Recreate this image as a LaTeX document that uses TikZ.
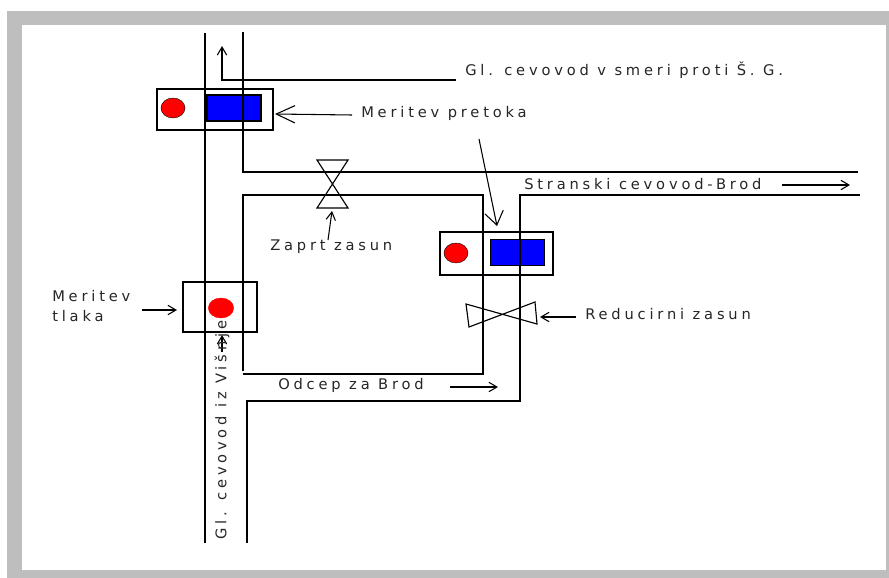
\documentclass[tikz,border=0pt]{standalone}
\usepackage{fontspec}
\setmainfont[LetterSpace=26]{DejaVu Sans}
\usetikzlibrary{arrows.meta,shapes.geometric}
\definecolor{framegray}{RGB}{190,190,190}
\tikzset{
  x=0.75pt,y=-0.75pt,
  pipe/.style={draw=black,line width=0.85pt},
  thin box/.style={draw=black,line width=0.85pt},
  meter/.style={draw=black,line width=0.8pt,fill=blue},
  dot/.style={draw=black,line width=0.3pt,fill=red},
  lbl/.style={inner sep=0pt,anchor=west,font=\fontsize{11}{13}\selectfont,text=black!85},
  pointer/.style={draw=black,line width=0.8pt,-{Straight Barb[length=6pt,width=7pt]}}
}
\begin{document}
\begin{tikzpicture}
\useasboundingbox (0,0) rectangle (889,578);
\fill[framegray] (7,11) rectangle (889,578);
\fill[white] (22,25) rectangle (886,570);
% boxes
\draw[thin box] (157,89) rectangle (273,130);
\draw[thin box] (440,232) rectangle (553,275);
\draw[thin box] (183,282) rectangle (257,332);
\node[meter,minimum width=40.5pt,minimum height=19.5pt,inner sep=0pt] (m1) at (234,108) {};
\node[meter,minimum width=41pt,minimum height=20pt,inner sep=0pt] (m2) at (517.5,252.5) {};
\node[dot,ellipse,minimum width=18pt,minimum height=15pt,inner sep=0pt] (d1) at (173,108) {};
\node[dot,ellipse,minimum width=18pt,minimum height=15pt,inner sep=0pt] (d2) at (456,253) {};
\node[dot,ellipse,draw=red,minimum width=19pt,minimum height=15pt,inner sep=0pt] (d3) at (221,308) {};
% pipes
\draw[pipe] (205,33) -- (205,543);
\draw[pipe] (243,32) -- (243,172) -- (858,172);
\draw[pipe] (243,371) -- (243,195) -- (483,195) -- (483,374) -- (243,374);
\draw[pipe] (247,543) -- (247,401) -- (520,401) -- (520,195) -- (860,195);
% valves
\draw[thin box] (317,160) -- (348,160) -- (317,208) -- (348,208) -- cycle;
\draw[thin box] (466,304) -- (537,324) -- (535,302) -- (469,327) -- cycle;
% connectors
\coordinate (a1) at (222,80); \coordinate (a1e) at (456,80); \coordinate (a1t) at (222,46);
\draw[pointer] (a1e) -- (a1) -- (a1t);
\coordinate (mp) at (352,115);
\draw[pointer,-{Straight Barb[length=14pt,width=13pt]}] (mp) -- (275,114);
\draw[pointer,-{Straight Barb[length=10pt,width=14pt]}] (479,139) -- (497,226);
\draw[pointer] (328,240) -- (332,211);
\draw[pointer] (576,317) -- (540,317);
\draw[pointer] (142,310) -- (177,310);
\draw[pointer] (782,185) -- (850,185);
\draw[pointer] (450,387) -- (498,387);
\draw[pointer] (222,352) -- (222,335);
% labels
\node[lbl] (t1) at (465,70) {Gl. cevovod v smeri proti Š. G.};
\node[lbl] (t2) at (361,113) {Meritev pretoka};
\node[lbl] (t3) at (524,184) {Stranski cevovod-Brod};
\node[lbl] (t4) at (270,247) {Zaprt zasun};
\node[lbl] (t5) at (585,314) {Reducirni zasun};
\node[lbl] (t6) at (52,296) {Meritev};
\node[lbl] (t7) at (52,316) {tlaka};
\node[lbl] (t8) at (278,385) {Odcep za Brod};
\node[lbl,rotate=90] (t9) at (222,540) {Gl. cevovod iz Višnje};
\end{tikzpicture}
\end{document}
